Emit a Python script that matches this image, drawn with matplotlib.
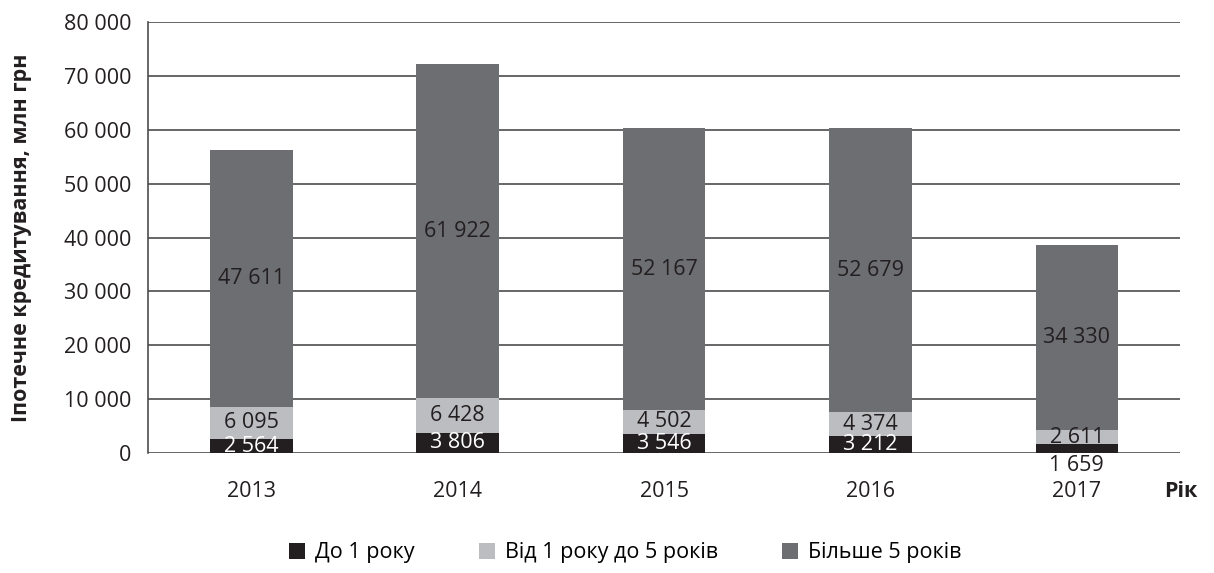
import numpy as np
import matplotlib
matplotlib.use('Agg')
import matplotlib.pyplot as plt
from matplotlib.ticker import FuncFormatter

plt.rcParams['font.family'] = ['Open Sans', 'DejaVu Sans']

years = ['2013', '2014', '2015', '2016', '2017']
up_to_1 = [2564, 3806, 3546, 3212, 1659]
from_1_to_5 = [6095, 6428, 4502, 4374, 2611]
over_5 = [47611, 61922, 52167, 52679, 34330]
series_names = ['До 1 року', 'Від 1 року до 5 років', 'Більше 5 років']
colors = ['#231f20', '#bcbdc0', '#6d6e71']
text_colors = ['white', '#231f20', '#231f20']

fs = 15.5

fig = plt.figure(figsize=(12.14, 5.73), dpi=100)
ax = fig.add_axes([0.122, 0.209, 0.850, 0.753])

x = np.arange(len(years))
bottom = np.zeros(len(years))
handles = []
for vals, name, col, tcol in zip([up_to_1, from_1_to_5, over_5], series_names, colors, text_colors):
    vals = np.array(vals, dtype=float)
    b = ax.bar(x, vals, 0.4, bottom=bottom, color=col, label=name, zorder=3)
    handles.append(b)
    for xi, v, b0 in zip(x, vals, bottom):
        lbl = f'{int(v):,}'.replace(',', ' ')
        if v < 2000:
            # too small to hold the label, put it under the bar
            ax.text(xi, b0 - 400, lbl, ha='center', va='top', fontsize=fs, color='#231f20', zorder=4)
        else:
            ax.text(xi, b0 + v / 2, lbl, ha='center', va='center', fontsize=fs, color=tcol, zorder=4)
    bottom += vals

ax.set_xlim(-0.5, len(years) - 0.5)
ax.set_ylim(0, 80000)
ax.set_yticks(np.arange(0, 80001, 10000))
ax.yaxis.set_major_formatter(FuncFormatter(lambda v, p: f'{int(v):,}'.replace(',', ' ')))
ax.set_xticks(x)
ax.set_xticklabels(years)
ax.tick_params(axis='both', length=0, labelsize=fs, colors='#231f20')
ax.tick_params(axis='x', pad=20)
ax.tick_params(axis='y', pad=12)
ax.grid(axis='y', color='#4d4d4f', linewidth=1.2, zorder=0)
for s in ['top', 'right', 'bottom']:
    ax.spines[s].set_visible(False)
ax.spines['left'].set_color('#4d4d4f')
ax.spines['left'].set_linewidth(1.2)

ax.set_ylabel('Іпотечне кредитування, млн грн', fontsize=fs, fontweight='bold', color='#231f20')
ax.yaxis.set_label_coords(-0.113, 0.5)
ax.text(0.985, -0.088, 'Рік', transform=ax.transAxes, fontsize=fs, fontweight='bold',
        color='#231f20', ha='left', va='center')

fig.legend(handles, series_names, loc='center', bbox_to_anchor=(0.515, 0.035), ncol=3,
           frameon=False, fontsize=fs, handlelength=0.75, handleheight=0.75, columnspacing=3.0,
           handletextpad=0.45)

fig.savefig('out.png', dpi=100)
